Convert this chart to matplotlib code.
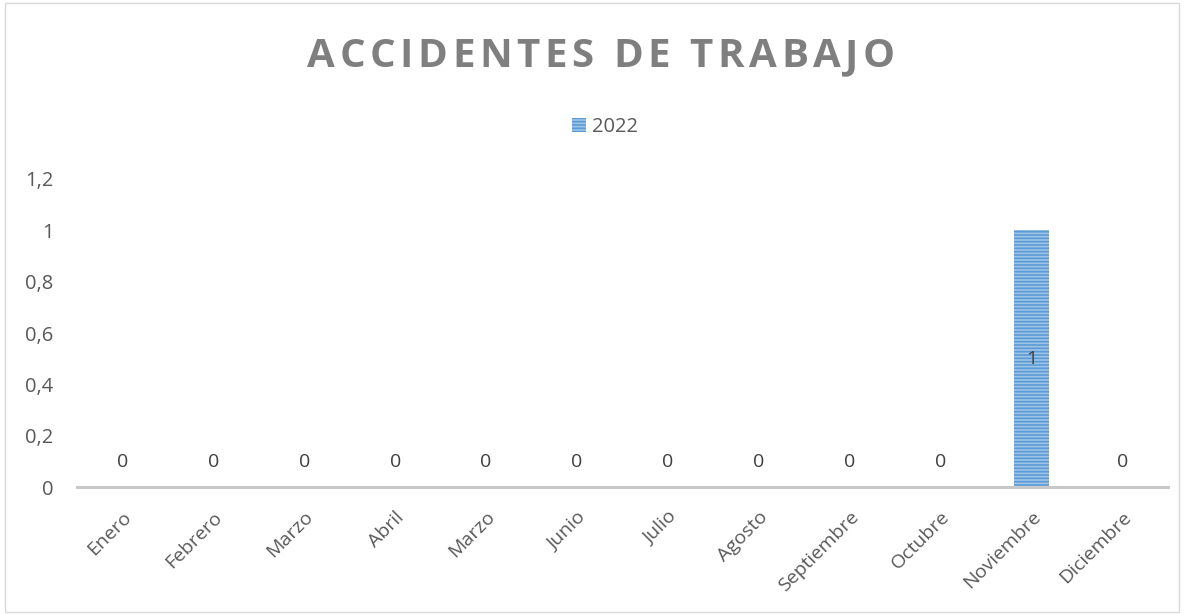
import matplotlib.pyplot as plt
import matplotlib.patches as mpatches
import numpy as np

plt.rcParams['font.family'] = ['Open Sans', 'DejaVu Sans']
plt.rcParams['hatch.linewidth'] = 1.2

titulo = "ACCIDENTES DE TRABAJO"
serie = "2022"
meses = ["Enero", "Febrero", "Marzo", "Abril", "Marzo", "Junio", "Julio",
         "Agosto", "Septiembre", "Octubre", "Noviembre", "Diciembre"]
accidentes_2022 = [0, 0, 0, 0, 0, 0, 0, 0, 0, 0, 1, 0]
yticks = [0, 0.2, 0.4, 0.6, 0.8, 1, 1.2]
ytick_labels = ["0", "0,2", "0,4", "0,6", "0,8", "1", "1,2"]

fig = plt.figure(figsize=(11.84, 6.15), dpi=100)
ax = fig.add_axes([0.065, 0.208, 0.9215, 0.501])

x = np.arange(len(meses))
ax.bar(x, accidentes_2022, width=0.39, color="#9DC3E6",
       edgecolor="#5B9BD5", hatch="-----", linewidth=0)

for xi, v in zip(x, accidentes_2022):
    ypos = 0.097 if v == 0 else v / 2
    ax.text(xi, ypos, str(v), ha="center", va="center", fontsize=14, color="#404040")

ax.set_xlim(-0.5, len(meses) - 0.5)
ax.set_ylim(0, 1.2)
ax.set_yticks(yticks)
ax.set_yticklabels(ytick_labels, fontsize=14.5, color="#595959")
ax.set_xticks(x)
ax.set_xticklabels(meses, rotation=45, ha="right", rotation_mode="anchor",
                   fontsize=14, color="#595959")
ax.tick_params(axis="y", length=0, pad=17)
ax.tick_params(axis="x", length=0, pad=15)
for s in ["top", "right", "left"]:
    ax.spines[s].set_visible(False)
ax.spines["bottom"].set_color("#C8C8C8")
ax.spines["bottom"].set_linewidth(2.2)

# titulo con espaciado entre letras: cada letra por separado
renderer = fig.canvas.get_renderer()
letras = [fig.text(0, 0.908, c, ha="left", va="center", fontsize=29,
                   fontweight="bold", color="#7F7F7F") for c in titulo]
anchos = [t.get_window_extent(renderer).width for t in letras]
ancho_esp = letras[0].get_fontsize() * 0.26 * 100 / 72
anchos = [a if c != " " else ancho_esp for a, c in zip(anchos, titulo)]
izq, der = 307, 895
hueco = (der - izq - sum(anchos)) / (len(titulo) - 1)
pos = izq
for t, a in zip(letras, anchos):
    t.set_x(pos / fig.bbox.width)
    pos += a + hueco

handle = mpatches.Patch(facecolor="#9DC3E6", edgecolor="#5B9BD5", hatch="-----", linewidth=0)
fig.legend([handle], [serie], loc="center", bbox_to_anchor=(0.511, 0.793),
           frameon=False, fontsize=14.5, handlelength=0.7, handleheight=0.7,
           handletextpad=0.3, labelcolor="#595959")

border = mpatches.Rectangle((0.004, 0.005), 0.992, 0.99, transform=fig.transFigure,
                            fill=False, edgecolor="#D9D9D9", linewidth=1)
fig.patches.append(border)

fig.savefig("out.png", dpi=100)
